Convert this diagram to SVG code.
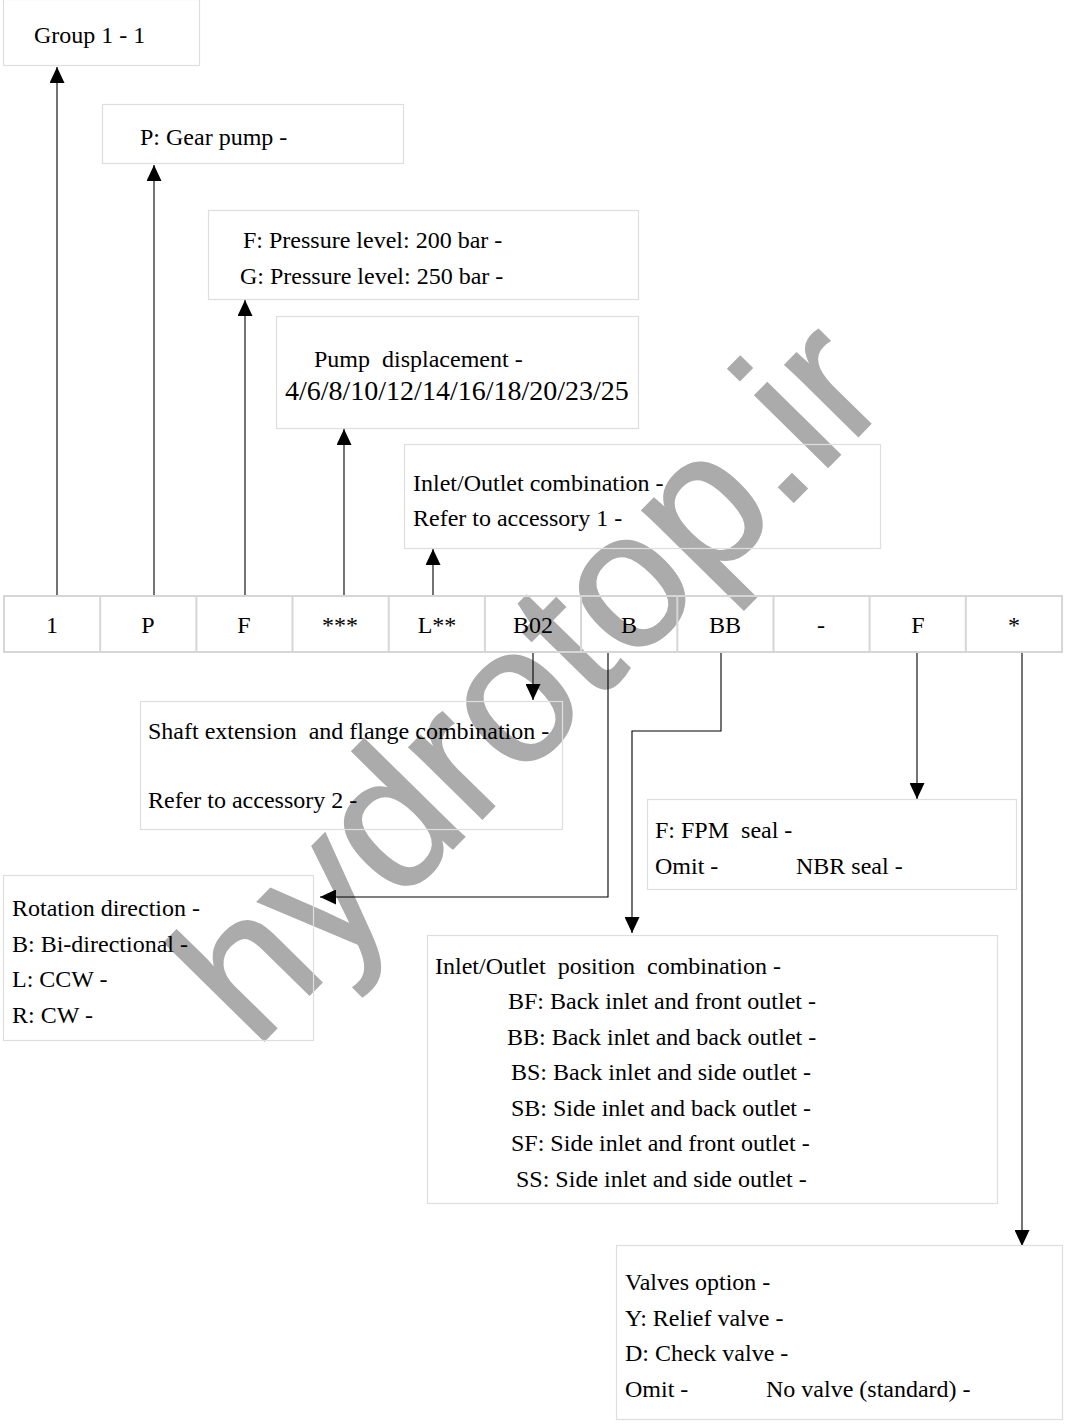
<svg xmlns="http://www.w3.org/2000/svg" width="1065" height="1427" viewBox="0 0 1065 1427">
<style>
.box{fill:none;stroke:#dedede;stroke-width:1.2}
.cell{fill:none;stroke:#d6d6d6;stroke-width:2}
.t{font-family:"Liberation Serif","Times New Roman",serif;font-size:24px;fill:#000;white-space:pre}
.c{text-anchor:middle}
.big{font-size:28px}
.ln{fill:none;stroke:#000;stroke-width:1.1}
.wm{font-family:"Liberation Sans",Arial,sans-serif;font-size:193px;fill:#ababab;stroke:#ababab;stroke-width:2}
</style>
<defs>
<marker id="ah" markerUnits="userSpaceOnUse" markerWidth="16" markerHeight="15" refX="16" refY="7.5" orient="auto">
<path d="M0,0 L16,7.5 L0,15 z" fill="#000"/>
</marker>
</defs>
<rect width="1065" height="1427" fill="#fff"/>
<text class="wm" transform="translate(255,1050) rotate(-45.5)">hydrotop.ir</text>

<g id="connectors">
<path class="ln" d="M57,596 V67" marker-end="url(#ah)"/>
<path class="ln" d="M154,596 V165" marker-end="url(#ah)"/>
<path class="ln" d="M245,596 V300" marker-end="url(#ah)"/>
<path class="ln" d="M344,596 V429" marker-end="url(#ah)"/>
<path class="ln" d="M433,596 V549" marker-end="url(#ah)"/>
<path class="ln" d="M533,652 V700" marker-end="url(#ah)"/>
<path class="ln" d="M608,652 V897 H320" marker-end="url(#ah)"/>
<path class="ln" d="M721,652 V731 H632 V933" marker-end="url(#ah)"/>
<path class="ln" d="M917,652 V799" marker-end="url(#ah)"/>
<path class="ln" d="M1022,652 V1246" marker-end="url(#ah)"/>
</g>

<g id="group">
<rect class="box" x="3.5" y="-0.5" width="196" height="66"/>
<text class="t" x="34" y="43">Group 1 - 1</text>
</g>
<g id="pump">
<rect class="box" x="102.5" y="104.5" width="301" height="59"/>
<text class="t" x="140" y="145">P: Gear pump -</text>
</g>
<g id="pressure">
<rect class="box" x="208.5" y="210.5" width="430" height="89"/>
<text class="t" x="243" y="248">F: Pressure level: 200 bar -</text>
<text class="t" x="240" y="284">G: Pressure level: 250 bar -</text>
</g>
<g id="displacement">
<rect class="box" x="276.5" y="316.5" width="362" height="112"/>
<text class="t" x="314" y="367">Pump  displacement -</text>
<text class="t big" x="285" y="400">4/6/8/10/12/14/16/18/20/23/25</text>
</g>
<g id="inlet-outlet">
<rect class="box" x="404.5" y="444.5" width="476" height="104"/>
<text class="t" x="413" y="491">Inlet/Outlet combination -</text>
<text class="t" x="413" y="526">Refer to accessory 1 -</text>
</g>

<g id="code-row">
<rect class="cell" x="4" y="596" width="1058" height="56"/>
<path class="cell" d="M100.2,596V652M196.4,596V652M292.5,596V652M388.7,596V652M484.9,596V652M581.1,596V652M677.3,596V652M773.5,596V652M869.6,596V652M965.8,596V652"/>
<text class="t c" x="52" y="633">1</text>
<text class="t c" x="148" y="633">P</text>
<text class="t c" x="244" y="633">F</text>
<text class="t c" x="340" y="633">***</text>
<text class="t c" x="437" y="633">L**</text>
<text class="t c" x="533" y="633">B02</text>
<text class="t c" x="629" y="633">B</text>
<text class="t c" x="725" y="633">BB</text>
<text class="t c" x="821" y="633">-</text>
<text class="t c" x="918" y="633">F</text>
<text class="t c" x="1014" y="633">*</text>
</g>

<g id="shaft">
<rect class="box" x="140.5" y="701.5" width="422" height="128"/>
<text class="t" x="148" y="739">Shaft extension  and flange combination -</text>
<text class="t" x="148" y="808">Refer to accessory 2 -</text>
</g>
<g id="seal">
<rect class="box" x="647.5" y="799.5" width="369" height="90"/>
<text class="t" x="655" y="838">F: FPM  seal -</text>
<text class="t" x="655" y="874">Omit -</text>
<text class="t" x="796" y="874">NBR seal -</text>
</g>
<g id="rotation">
<rect class="box" x="3.5" y="875.5" width="310" height="165"/>
<text class="t" x="12" y="916">Rotation direction -</text>
<text class="t" x="12" y="952">B: Bi-directional -</text>
<text class="t" x="12" y="987">L: CCW -</text>
<text class="t" x="12" y="1023">R: CW -</text>
</g>
<g id="position">
<rect class="box" x="427.5" y="935.5" width="570" height="268"/>
<text class="t" x="435" y="974">Inlet/Outlet  position  combination -</text>
<text class="t" x="508" y="1009">BF: Back inlet and front outlet -</text>
<text class="t" x="507" y="1045">BB: Back inlet and back outlet -</text>
<text class="t" x="511" y="1080">BS: Back inlet and side outlet -</text>
<text class="t" x="511" y="1116">SB: Side inlet and back outlet -</text>
<text class="t" x="511" y="1151">SF: Side inlet and front outlet -</text>
<text class="t" x="516" y="1187">SS: Side inlet and side outlet -</text>
</g>
<g id="valves">
<rect class="box" x="616.5" y="1245.5" width="446" height="174"/>
<text class="t" x="625" y="1290">Valves option -</text>
<text class="t" x="625" y="1326">Y: Relief valve -</text>
<text class="t" x="625" y="1361">D: Check valve -</text>
<text class="t" x="625" y="1397">Omit -</text>
<text class="t" x="766" y="1397">No valve (standard) -</text>
</g>
</svg>
